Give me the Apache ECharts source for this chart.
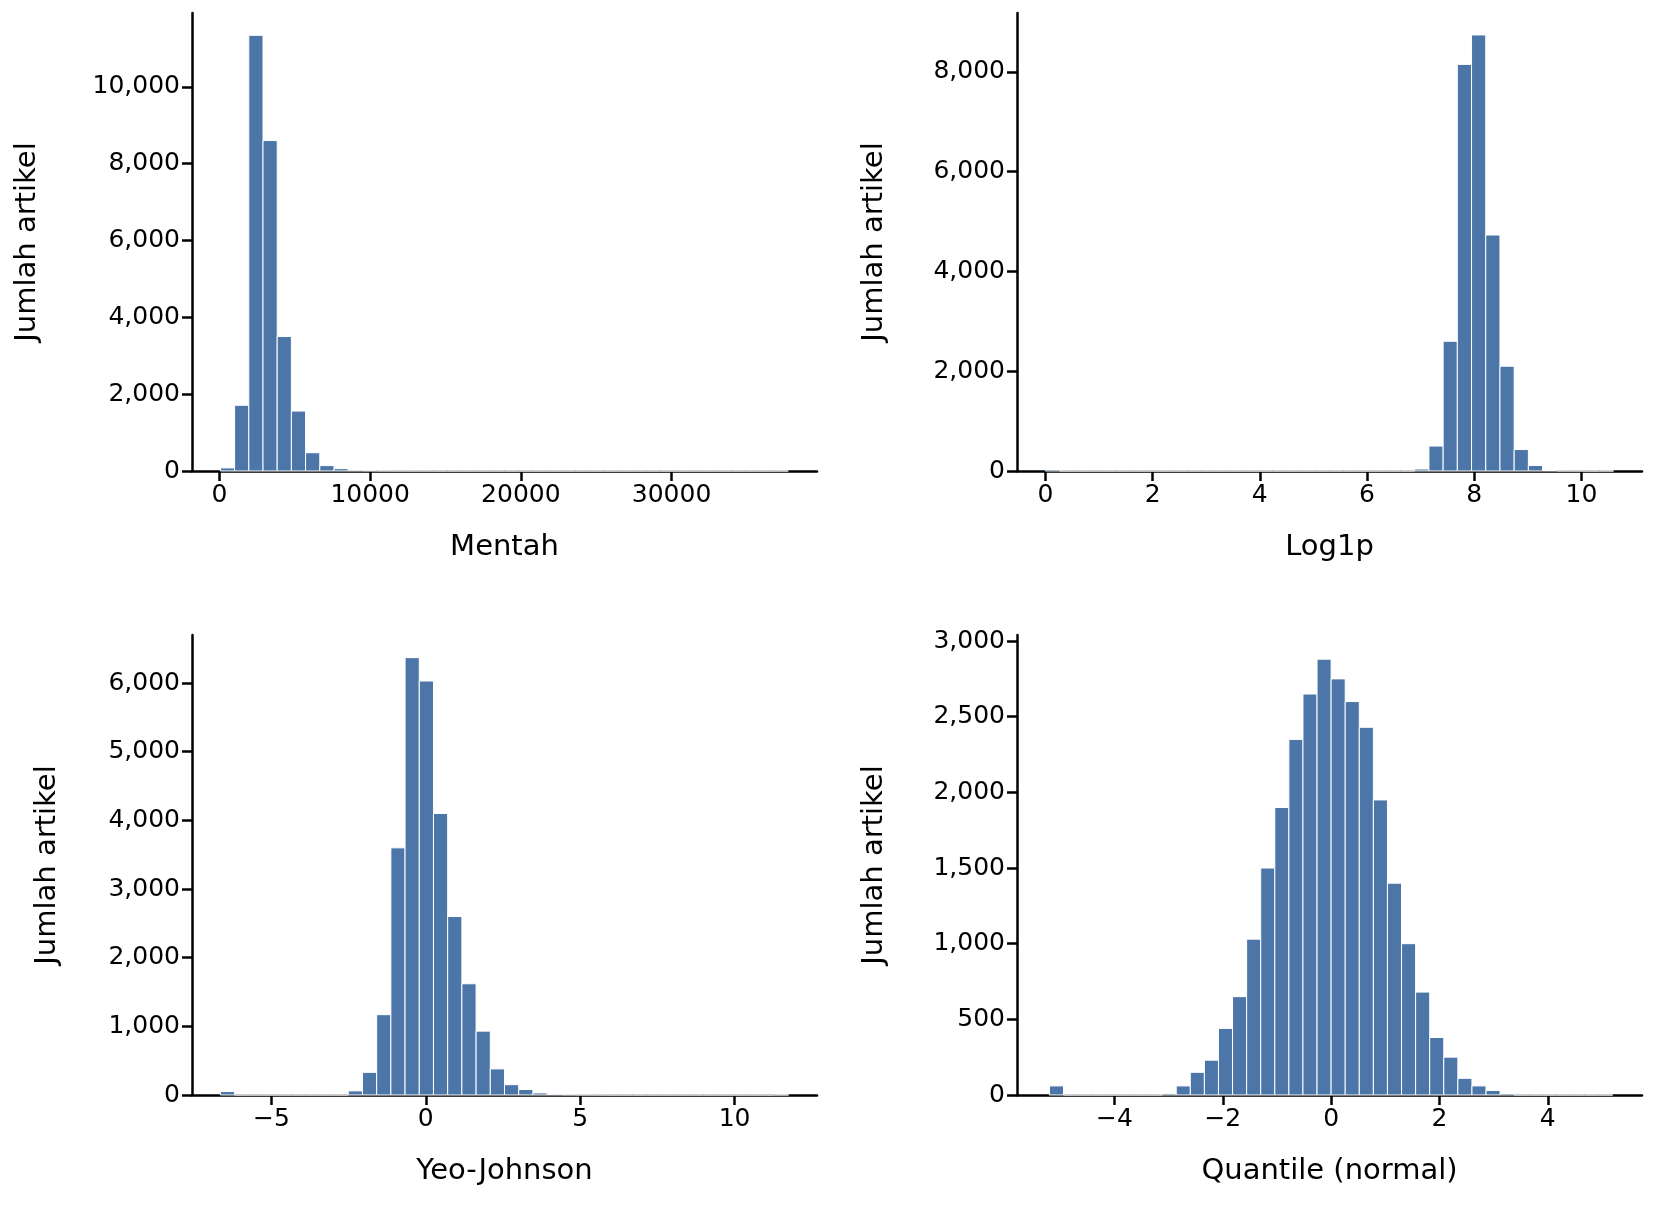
<!DOCTYPE html>
<html>
<head>
    <meta charset="utf-8">
    <title>Histogram transformasi</title>
    <script src="https://cdn.jsdelivr.net/npm/echarts@6.0.0/dist/echarts.min.js"></script>
    <style>
        body { margin: 0; background: #fff; }
        #chart { width: 1653px; height: 1216px; }
    </style>
</head>
<body>
    <div id="chart"></div>
    <script>
        // 40 bins tiap panel: awal bin, lebar bin, jumlah
        var rawStart = 65, rawWidth = 942;
        var rawCounts = [80, 1710, 11340, 8600, 3500, 1560, 475, 140, 60, 20, 8, 4, 2, 1, 1, 0, 0, 0, 0, 0,
            0, 0, 0, 0, 0, 0, 0, 0, 0, 0, 0, 0, 0, 0, 0, 0, 0, 0, 0, 1];
        var logStart = 0, logWidth = 0.265;
        var logCounts = [30, 0, 0, 0, 0, 0, 0, 0, 0, 0, 0, 0, 0, 0, 0, 0, 0, 0, 0, 0,
            0, 0, 0, 0, 0, 0, 40, 500, 2600, 8150, 8740, 4730, 2100, 430, 110, 10, 2, 1, 0, 1];
        var yjStart = -6.65, yjWidth = 0.46;
        var yjCounts = [50, 0, 0, 0, 0, 0, 0, 0, 0, 60, 330, 1170, 3600, 6370, 6030, 4100, 2600, 1620, 930, 380,
            150, 80, 30, 10, 4, 2, 1, 0, 0, 0, 0, 0, 0, 0, 0, 0, 0, 0, 0, 2];
        var qStart = -5.2, qWidth = 0.26;
        var qCounts = [60, 0, 0, 0, 0, 0, 0, 0, 10, 60, 150, 230, 440, 650, 1030, 1500, 1900, 2350, 2650, 2880,
            2750, 2600, 2430, 1950, 1400, 1000, 680, 380, 250, 110, 60, 30, 10, 0, 0, 0, 0, 0, 0, 0];

        var xTicks = [[0, 10000, 20000, 30000], [0, 2, 4, 6, 8, 10], [-5, 0, 5, 10], [-4, -2, 0, 2, 4]];
        var xNames = ['Mentah', 'Log1p', 'Yeo-Johnson', 'Quantile (normal)'];

        var chart = echarts.init(document.getElementById('chart'));
        var font = 'DejaVu Sans';
        var barColor = '#4c76a8';

        function bins(start, width, counts) {
            return counts.map(function (c, i) {
                return [start + i * width, start + (i + 1) * width, c];
            });
        }

        function renderBar(params, api) {
            var p0 = api.coord([api.value(0), api.value(2)]);
            var p1 = api.coord([api.value(1), 0]);
            return {
                type: 'rect',
                shape: { x: p0[0], y: p0[1], width: p1[0] - p0[0], height: p1[1] - p0[1] },
                style: { fill: barColor, stroke: '#ffffff', lineWidth: 1 }
            };
        }

        var grids = [
            { left: 192, top: 13, width: 625, height: 458 },
            { left: 1017, top: 13, width: 625, height: 458 },
            { left: 192, top: 635, width: 625, height: 460 },
            { left: 1017, top: 635, width: 625, height: 460 }
        ];
        var xRange = [[-1820, 39650], [-0.53, 11.13], [-7.57, 12.67], [-5.8, 5.74]];
        var yMax = [11920, 9180, 6700, 3040];
        var yInterval = [2000, 2000, 1000, 500];
        var yGap = [150, 128, 130, 128];
        var data = [
            bins(rawStart, rawWidth, rawCounts),
            bins(logStart, logWidth, logCounts),
            bins(yjStart, yjWidth, yjCounts),
            bins(qStart, qWidth, qCounts)
        ];

        var axisLine = { show: true, onZero: false, lineStyle: { color: '#000', width: 2.5 } };
        var axisTick = { show: true, length: 10, lineStyle: { color: '#000', width: 2.5 } };
        var label = { color: '#000', fontSize: 25, fontFamily: font, margin: 12 };

        var option = {
            animation: false,
            grid: grids,
            xAxis: grids.map(function (g, i) {
                return {
                    type: 'value', gridIndex: i, min: xRange[i][0], max: xRange[i][1],
                    name: xNames[i], nameLocation: 'middle', nameGap: 62,
                    nameTextStyle: { color: '#000', fontSize: 29, fontFamily: font },
                    axisLine: axisLine,
                    axisTick: Object.assign({ customValues: xTicks[i] }, axisTick),
                    axisLabel: Object.assign({
                        customValues: xTicks[i],
                        formatter: function (v) { return String(v).replace('-', '\u2212'); }
                    }, label),
                    splitLine: { show: false }
                };
            }),
            yAxis: grids.map(function (g, i) {
                return {
                    type: 'value', gridIndex: i, min: 0, max: yMax[i], interval: yInterval[i],
                    name: 'Jumlah artikel', nameLocation: 'middle', nameGap: yGap[i],
                    nameTextStyle: { color: '#000', fontSize: 29, fontFamily: font },
                    axisLine: axisLine, axisTick: axisTick,
                    axisLabel: Object.assign({ showMaxLabel: false }, label),
                    splitLine: { show: false }
                };
            }),
            series: data.map(function (d, i) {
                return {
                    type: 'custom', xAxisIndex: i, yAxisIndex: i,
                    renderItem: renderBar, encode: { x: [0, 1], y: 2 }, data: d
                };
            })
        };
        chart.setOption(option);
    </script>
</body>
</html>
